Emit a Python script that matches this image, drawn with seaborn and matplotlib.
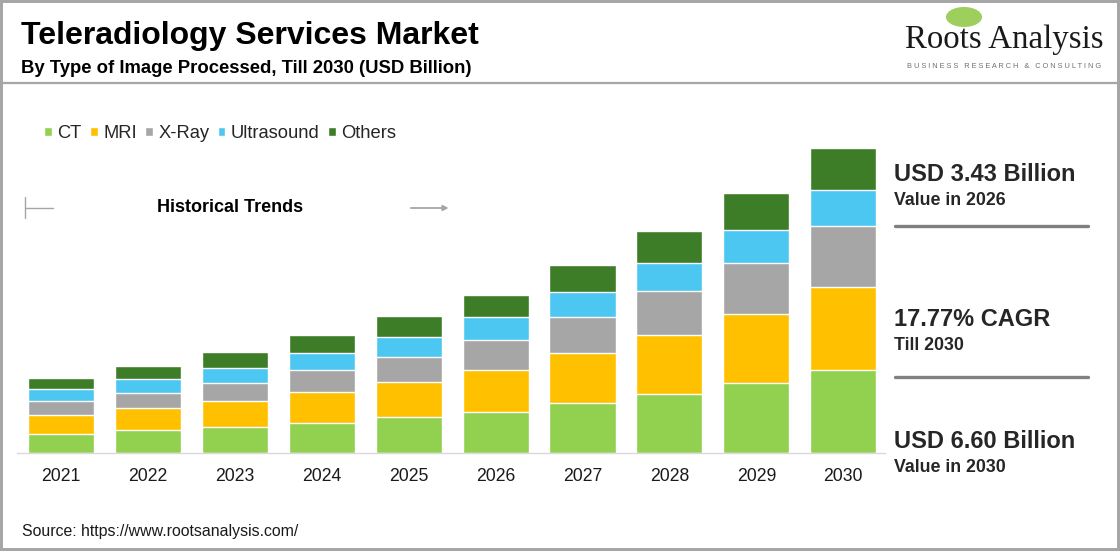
import pandas as pd
import matplotlib
matplotlib.use("Agg")
import matplotlib.pyplot as plt
import seaborn as sns
from matplotlib.lines import Line2D
from matplotlib.patches import Rectangle, Ellipse


years = ["2021", "2022", "2023", "2024", "2025", "2026", "2027", "2028", "2029", "2030"]
ct = [0.41, 0.50, 0.56, 0.66, 0.78, 0.90, 1.08, 1.28, 1.51, 1.80]
mri = [0.41, 0.48, 0.56, 0.66, 0.76, 0.90, 1.08, 1.28, 1.51, 1.80]
xray = [0.30, 0.33, 0.41, 0.48, 0.55, 0.66, 0.78, 0.95, 1.10, 1.31]
ultrasound = [0.26, 0.30, 0.32, 0.36, 0.43, 0.48, 0.54, 0.61, 0.71, 0.78]
others = [0.24, 0.28, 0.33, 0.40, 0.45, 0.49, 0.59, 0.68, 0.79, 0.91]

segments = ["CT", "MRI", "X-Ray", "Ultrasound", "Others"]
colors = ["#92D050", "#FFC000", "#A6A6A6", "#4CC7F2", "#3D7D27"]

df = pd.DataFrame({
    "Year": years,
    "CT": ct,
    "MRI": mri,
    "X-Ray": xray,
    "Ultrasound": ultrasound,
    "Others": others,
})
cum = df[segments].cumsum(axis=1)

sns.set_theme(style="white")
plt.rcParams["font.family"] = ["Liberation Sans", "DejaVu Sans"]

W, H = 1120, 551


def fx(x):
    return x / W


def fy(y):
    return 1 - y / H


fig = plt.figure(figsize=(11.2, 5.51), dpi=100)
fig.patch.set_facecolor("white")

base_px = 453.3
top_px = 140
px_per_unit = 46.26
ax = fig.add_axes([fx(17), fy(base_px), fx(885) - fx(17), fy(top_px) - fy(base_px)])

# tallest cumulative first, then the lower layers drawn on top
for seg, col in reversed(list(zip(segments, colors))):
    sns.barplot(
        x=df["Year"],
        y=cum[seg],
        color=col,
        saturation=1,
        width=0.76,
        edgecolor="white",
        linewidth=1,
        label=seg,
        ax=ax,
    )

ax.set_xlim(-0.506, 9.48)
ax.set_ylim(0, (base_px - top_px) / px_per_unit)
for s in ["top", "left", "right"]:
    ax.spines[s].set_visible(False)
ax.spines["bottom"].set_color("#D9D9D9")
ax.spines["bottom"].set_linewidth(1)
ax.set_yticks([])
ax.set_xlabel("")
ax.set_ylabel("")
ax.tick_params(axis="x", length=0, pad=10.5, labelsize=12.7, labelcolor="#1a1a1a")
ax.set_facecolor("white")

handles, labels = ax.get_legend_handles_labels()
ax.legend(
    handles[::-1], labels[::-1],
    loc="center left",
    bbox_to_anchor=(fx(37), fy(133.5)),
    bbox_transform=fig.transFigure,
    ncol=5,
    frameon=False,
    fontsize=13.2,
    handlelength=0.42,
    handleheight=0.42,
    handletextpad=0.3,
    columnspacing=0.45,
    borderaxespad=0,
)

# titles
fig.text(fx(21), fy(44), "Teleradiology Services Market", fontsize=23,
         fontweight="bold", color="black", va="baseline")
fig.text(fx(21), fy(73), "By Type of Image Processed, Till 2030 (USD Billion)",
         fontsize=13.3, fontweight="bold", color="black", va="baseline")

# logo
fig.patches.append(Ellipse((fx(964), fy(17)), 36 / W, 20 / H, transform=fig.transFigure,
                           facecolor="#8DC63F", edgecolor="none", alpha=0.85))
fig.text(fx(905), fy(48), "Roots Analysis", fontsize=23.7, family="Liberation Serif",
         color="#1a1a1a", va="baseline")
fig.text(fx(1004), fy(67), "B U S I N E S S   R E S E A R C H   &   C O N S U L T I N G",
         fontsize=5.3, color="#6F6F6F", ha="center", va="center")

# historical trends marker
fig.add_artist(Line2D([fx(25), fx(25)], [fy(197), fy(218)], color="#A6A6A6", lw=1))
fig.add_artist(Line2D([fx(25), fx(53)], [fy(208), fy(208)], color="#A6A6A6", lw=1))
fig.text(fx(230), fy(207), "Historical Trends", fontsize=13, fontweight="bold",
         ha="center", va="center", color="black")
fig.add_artist(plt.annotate("", xy=(fx(451), fy(208)), xytext=(fx(408), fy(208)),
                            xycoords="figure fraction", textcoords="figure fraction",
                            arrowprops=dict(arrowstyle="-|>", color="#A6A6A6", lw=1,
                                            mutation_scale=8)))

# right panel
fig.text(fx(894), fy(181), "USD 3.43 Billion", fontsize=17, fontweight="bold", va="baseline")
fig.text(fx(894), fy(205), "Value in 2026", fontsize=12.8, fontweight="bold", va="baseline")
fig.add_artist(Line2D([fx(895), fx(1088)], [fy(225.5), fy(225.5)], color="#808080", lw=2.4))
fig.text(fx(894), fy(326), "17.77% CAGR", fontsize=17, fontweight="bold", va="baseline")
fig.text(fx(894), fy(349.5), "Till 2030", fontsize=12.8, fontweight="bold", va="baseline")
fig.add_artist(Line2D([fx(895), fx(1088)], [fy(376.5), fy(376.5)], color="#808080", lw=2.4))
fig.text(fx(894), fy(448.5), "USD 6.60 Billion", fontsize=17, fontweight="bold", va="baseline")
fig.text(fx(894), fy(472.5), "Value in 2030", fontsize=12.8, fontweight="bold", va="baseline")

# source
fig.text(fx(22), fy(536), "Source: https://www.rootsanalysis.com/", fontsize=11.4,
         color="#1a1a1a", va="baseline")

# frame and header separator
fig.add_artist(Line2D([0, 1], [fy(82.7), fy(82.7)], color="#A6A6A6", lw=1.6))
fig.patches.append(Rectangle((0, 0), 1, 1, transform=fig.transFigure, fill=False,
                             edgecolor="#A6A6A6", linewidth=4.3))

fig.savefig("out.png", dpi=100)
